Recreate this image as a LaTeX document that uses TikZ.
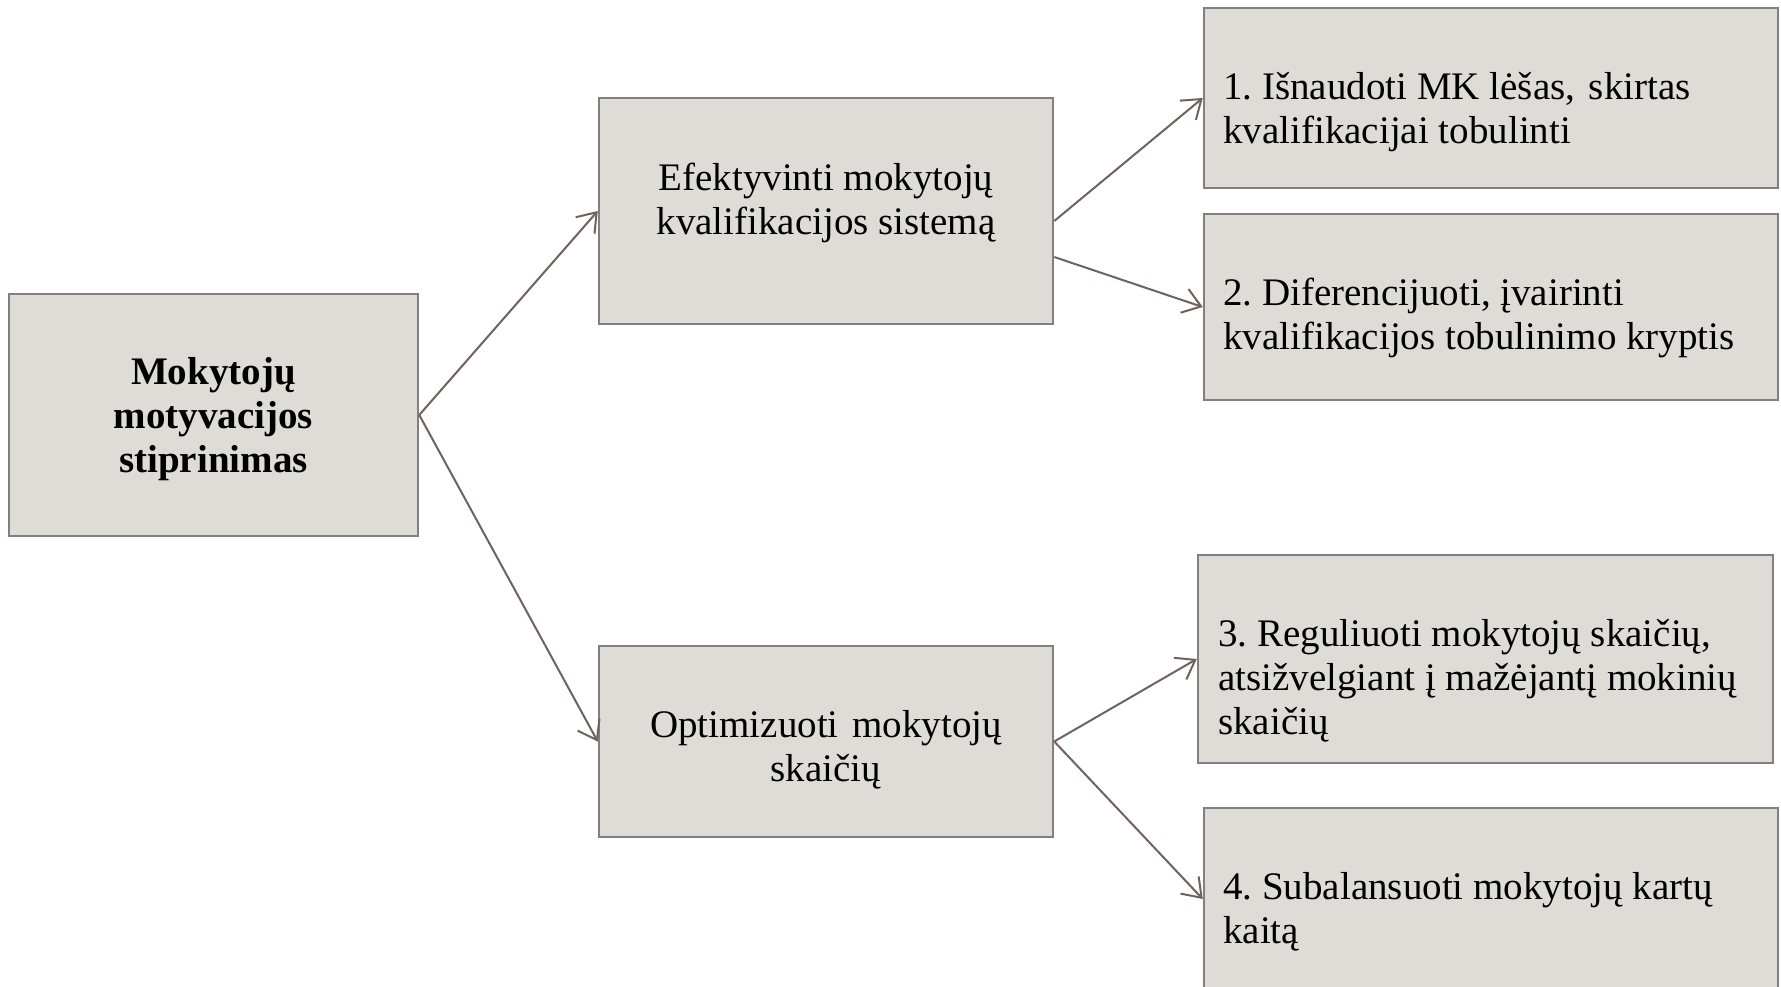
\documentclass[tikz,border=0pt]{standalone}
\usepackage{fontspec}
\setmainfont{Liberation Serif}
\usetikzlibrary{arrows.meta,fit,calc}
\definecolor{boxfill}{RGB}{223,219,215}
\definecolor{boxline}{RGB}{128,128,128}
\definecolor{arrowc}{RGB}{112,98,92}
\frenchspacing
\begin{document}
\begin{tikzpicture}[x=0.4pt,y=-0.4pt,
  box/.style={draw=boxline, fill=boxfill, line width=1pt, inner sep=0pt},
  txt/.style={inner sep=0pt, font=\fontsize{15.6}{17.6}\selectfont, execute at begin node=\strut},
  ctxt/.style={txt, anchor=north, align=center},
  ltxt/.style={txt, anchor=north west, align=left},
  conn/.style={draw=arrowc, line width=0.8pt, -{Straight Barb[length=7pt,width=10pt]}}]
\useasboundingbox[fill=white] (0,0) rectangle (1781,987);
% boxes
\node[box, fit={(9,294) (418,536)}] (A) {};
\node[box, fit={(599,98) (1053,324)}] (B) {};
\node[box, fit={(599,646) (1053,837)}] (C) {};
\node[box, fit={(1204,8) (1778,188)}] (b1) {};
\node[box, fit={(1204,214) (1778,400)}] (b2) {};
\node[box, fit={(1198,555) (1773,763)}] (b3) {};
\node[box, fit={(1204,808) (1778,990)}] (b4) {};
% texts
\node[ctxt, font=\fontsize{15.6}{17.6}\selectfont\bfseries] (tA) at ($(A.north)+(0,64)$) {Mokytojų\\motyvacijos\\stiprinimas};
\node[ctxt] (tB) at ($(B.north)+(0,66)$) {Efektyvinti mokytojų\\kvalifikacijos sistemą};
\node[ctxt] (tC) at ($(C.north)+(0,65)$) {Optimizuoti\hspace{0.35em}mokytojų\\skaičių};
\node[ltxt] (t1) at ($(b1.north west)+(20,65)$) {1. Išnaudoti MK lėšas,\hspace{0.35em}skirtas\\kvalifikacijai tobulinti};
\node[ltxt] (t2) at ($(b2.north west)+(20,65)$) {2. Diferencijuoti, įvairinti\\kvalifikacijos tobulinimo kryptis};
\node[ltxt] (t3) at ($(b3.north west)+(21,65)$) {3. Reguliuoti mokytojų skaičių,\\atsižvelgiant į mažėjantį mokinių\\skaičių};
\node[ltxt] (t4) at ($(b4.north west)+(20,65)$) {4. Subalansuoti mokytojų kartų\\kaitą};
% connectors
\draw[conn] (A.east) -- (B.west);
\draw[conn] (A.east) -- (C.west);
\draw[conn] ($(B.east)+(0,10)$) -- (b1.west);
\draw[conn] ($(B.east)+(0,46)$) -- (b2.west);
\draw[conn] (C.east) -- (b3.west);
\draw[conn] (C.east) -- (b4.west);
\end{tikzpicture}
\end{document}
